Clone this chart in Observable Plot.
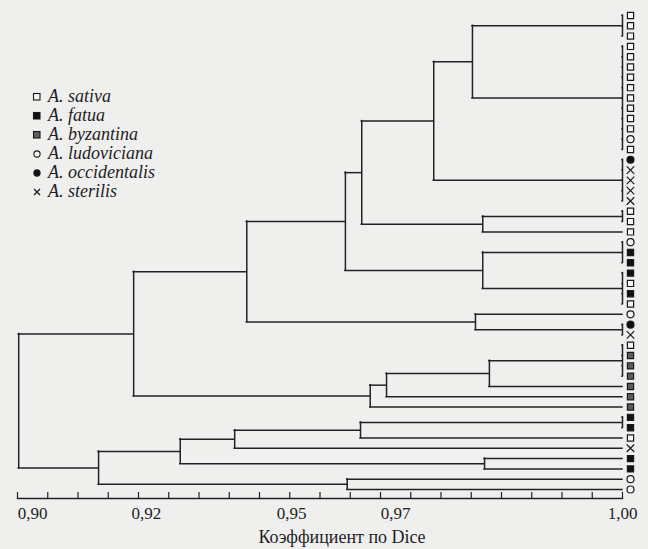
<!DOCTYPE html>
<html>
<head>
<meta charset="utf-8">
<script src="https://cdn.jsdelivr.net/npm/d3@7"></script>
<script src="https://cdn.jsdelivr.net/npm/@observablehq/plot@0.6"></script>
<style>
  html, body { margin: 0; padding: 0; background: #efefee; }
  #wrap { position: relative; width: 648px; height: 549px; overflow: hidden; }
  #chart svg, #chart svg text { font-family: "Liberation Serif", serif !important; }
  #legend { position: absolute; left: 31px; top: 87px; font: italic 18px "Liberation Serif", serif; color: #1e1e1e; }
  #legend .row { height: 19px; display: flex; align-items: center; white-space: nowrap; }
  #legend svg { margin-right: 5px; }
</style>
</head>
<body>
<div id="wrap"><div id="chart"></div><div id="legend"></div></div>
<script>
// Species (legend categories)
const species = ["A. sativa", "A. fatua", "A. byzantina", "A. ludoviciana", "A. occidentalis", "A. sterilis"];

// Leaves from top to bottom, as index into species
const leafSpecies = [
  0, 0, 0,
  0, 0, 0, 0, 0, 0, 0, 0, 0, 3, 0,
  4, 5, 5, 5, 5,
  0, 0, 0,
  3, 1, 1,
  1, 0, 1, 0,
  3, 4, 5,
  0, 2, 2, 2,
  2, 2, 2,
  1, 1, 0, 5,
  1, 1,
  3, 3
];

// Merges: [children ids, Dice coefficient]; leaf ids 0..46, merge k gets id 47 + k
const merges = [
  [[0, 1, 2], 1.000],                                  // 47
  [[3, 4, 5, 6, 7, 8, 9, 10, 11, 12, 13], 1.000],      // 48
  [[14, 15, 16, 17, 18], 1.000],                       // 49
  [[19, 20], 1.000],                                   // 50
  [[50, 21], 0.9769],                                  // 51
  [[47, 48], 0.9752],                                  // 52
  [[52, 49], 0.9688],                                  // 53
  [[53, 51], 0.9569],                                  // 54
  [[22, 23, 24], 1.000],                               // 55
  [[25, 26, 27, 28], 1.000],                           // 56
  [[55, 56], 0.9769],                                  // 57
  [[54, 57], 0.9542],                                  // 58
  [[30, 31], 1.000],                                   // 59
  [[29, 59], 0.9757],                                  // 60
  [[58, 60], 0.9379],                                  // 61
  [[32, 33, 34, 35], 1.000],                           // 62
  [[62, 36], 0.9780],                                  // 63
  [[63, 37], 0.9610],                                  // 64
  [[64, 38], 0.9583],                                  // 65
  [[61, 65], 0.9192],                                  // 66
  [[39, 40], 1.000],                                   // 67
  [[67, 41], 0.9567],                                  // 68
  [[68, 42], 0.9359],                                  // 69
  [[43, 44], 0.9772],                                  // 70
  [[69, 70], 0.9269],                                  // 71
  [[45, 46], 0.9545],                                  // 72
  [[71, 72], 0.9134],                                  // 73
  [[66, 73], 0.9002]                                   // 74
];

// Axis: minor ticks every 0.005; printed labels and where they sit on the axis
const minorStep = 0.005;
const tickLabels = ["0,90", "0,92", "0,95", "0,97", "1,00"];
const tickLabelAt = [0.9025, 0.9213, 0.9453, 0.9625, 1.000];
const axisTitle = "Коэффициент по Dice";

// ---- build geometry from the data ----
const n = leafSpecies.length;
const nodeX = leafSpecies.map(() => 1.0);
const nodeY = leafSpecies.map((_, i) => i);
const hsegs = [], vsegs = [];
merges.forEach(([kids, dice]) => {
  const ys = kids.map(k => nodeY[k]);
  const y1 = d3.min(ys), y2 = d3.max(ys);
  kids.forEach(k => hsegs.push({y: nodeY[k], x1: nodeX[k], x2: dice}));
  vsegs.push({x: dice, y1, y2});
  nodeX.push(dice);
  nodeY.push((y1 + y2) / 2);
});
const leaves = leafSpecies.map((s, i) => ({i, sp: species[s]}));
const minorTicks = d3.range(0, 20.5).map(k => +(0.9 + k * minorStep).toFixed(4));

const ink = "#222";
const serif = "Liberation Serif";
const fills = ["#f4f4f4", "#111", "#5c5c5c", "#f4f4f4", "#111", "none"];
const symbols = ["square", "square", "square", "circle", "circle", "times"];

const chart = Plot.plot({
  width: 648,
  height: 549,
  marginLeft: 17,
  marginRight: 26,
  marginTop: 15,
  marginBottom: 51,
  x: {domain: [0.90, 1.00]},
  y: {domain: [0, n - 1], range: [15, 489], axis: null},
  symbol: {domain: species, range: symbols},
  color: {domain: species, range: fills},
  style: {background: "#efefee", color: ink},
  marks: [
    Plot.ruleY(hsegs, {y: "y", x1: "x1", x2: "x2", stroke: ink, strokeWidth: 1.5, strokeLinecap: "square"}),
    Plot.ruleX(vsegs, {x: "x", y1: "y1", y2: "y2", stroke: ink, strokeWidth: 1.5, strokeLinecap: "square"}),
    Plot.dot(leaves, {x: () => 1.0, y: "i", dx: 8, symbol: "sp", fill: "sp", stroke: "#1a1a1a", r: 3.5, strokeWidth: 1.2}),
    Plot.frame({anchor: "bottom", stroke: ink, strokeWidth: 1.5}),
    Plot.axisX({ticks: minorTicks, tickSize: -6, tickFormat: () => "", stroke: ink, strokeWidth: 1.2, label: null}),
    Plot.axisX({ticks: tickLabelAt, tickSize: 0, tickPadding: 8, tickFormat: (d, i) => tickLabels[i],
      fontSize: 17, fontFamily: serif, fill: "#1e1e1e", label: null}),
    Plot.text([axisTitle], {frameAnchor: "bottom", dx: 22, dy: 44, fontSize: 18, fontFamily: serif, fill: "#1e1e1e"})
  ]
});
chart.setAttribute("font-family", "'Liberation Serif', serif");
document.getElementById("chart").appendChild(chart);

// legend built from species
const leg = d3.select("#legend");
species.forEach((s, i) => {
  const row = leg.append("div").attr("class", "row");
  const svg = row.append("svg").attr("width", 12).attr("height", 12);
  const sym = symbols[i];
  if (sym === "square") {
    svg.append("rect").attr("x", 2.5).attr("y", 2.5).attr("width", 6.5).attr("height", 6.5)
      .attr("fill", fills[i]).attr("stroke", "#1a1a1a").attr("stroke-width", 1.1);
  } else if (sym === "circle") {
    svg.append("circle").attr("cx", 6).attr("cy", 6).attr("r", 3.1)
      .attr("fill", fills[i]).attr("stroke", "#1a1a1a").attr("stroke-width", 1.1);
  } else {
    svg.append("path").attr("d", "M3,3L9,9M9,3L3,9").attr("stroke", "#1a1a1a").attr("stroke-width", 1.3);
  }
  row.append("span").text(s);
});
</script>
</body>
</html>
